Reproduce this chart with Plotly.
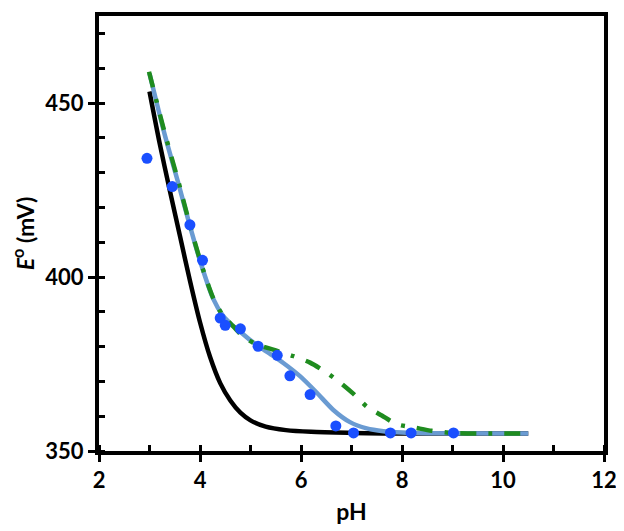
import plotly.graph_objects as go

# Experimental points
ph_pts = [2.95, 3.45, 3.8, 4.05, 4.4, 4.5, 4.8, 5.15, 5.53, 5.78, 6.18, 6.69, 7.04, 7.77, 8.18, 9.02]
e_pts = [434.1, 426.0, 415.0, 404.8, 388.2, 386.1, 385.1, 380.1, 377.5, 371.6, 366.2, 357.2, 355.2, 355.2, 355.2, 355.2]

# Black model curve
ph_black = [3.0, 3.2, 3.4, 3.6, 3.8, 4.0, 4.2, 4.4, 4.6, 4.8, 5.0, 5.3, 5.7, 6.2, 7.0, 8.0, 10.5]
e_black = [453.3, 438.5, 425.0, 412.0, 399.0, 387.0, 377.0, 369.5, 364.5, 361.0, 358.8, 357.0, 356.0, 355.5, 355.2, 355.0, 355.0]

# Light blue fit curve
ph_blue = [3.0, 3.3, 3.57, 3.8, 4.03, 4.26, 4.45, 4.65, 4.86, 5.0, 5.2, 5.4, 5.65, 5.98, 6.31, 6.64, 6.97, 7.3, 7.63, 8.0, 8.5, 10.5]
e_blue = [458.5, 441.0, 427.0, 414.7, 403.3, 393.8, 389.0, 386.0, 383.5, 381.8, 379.7, 377.8, 375.3, 371.5, 366.8, 361.8, 358.3, 356.5, 355.7, 355.3, 355.1, 355.0]

# Green dash-dot curve
ph_green = [2.99, 3.3, 3.57, 3.8, 4.03, 4.26, 4.45, 4.66, 4.86, 5.1, 5.54, 5.84, 6.18, 6.51, 6.77, 7.04, 7.3, 7.6, 7.89, 8.26, 8.59, 9.0, 10.5]
e_green = [459.0, 441.5, 427.5, 415.0, 403.5, 394.0, 389.0, 385.8, 382.8, 380.8, 378.7, 377.3, 375.4, 372.5, 369.7, 366.4, 362.8, 360.2, 357.7, 356.7, 355.8, 355.2, 355.0]

fig = go.Figure()
fig.add_trace(go.Scatter(x=ph_black, y=e_black, mode="lines", line=dict(color="black", width=4.5, shape="spline", smoothing=0.8), showlegend=False))
fig.add_trace(go.Scatter(x=ph_blue, y=e_blue, mode="lines", line=dict(color="#6A9BD2", width=4.5, shape="spline", smoothing=0.7), showlegend=False))
fig.add_trace(go.Scatter(x=ph_green, y=e_green, mode="lines", line=dict(color="#1F8C1F", width=4.5, shape="spline", smoothing=0.7, dash="16px,12px,4px,12px"), showlegend=False))
fig.add_trace(go.Scatter(x=ph_pts, y=e_pts, mode="markers", marker=dict(color="#1A4FFF", size=11), showlegend=False))

family = "Lato, 'Open Sans', sans-serif"
font = dict(family=family, size=22, color="black", weight="bold")
tfont = dict(family=family, size=23, color="black", weight="bold")

# The page body adds an 8px offset; size and margins compensate for it.
fig.update_layout(
    width=616, height=523,
    margin=dict(l=91, r=20, t=4, b=80),
    plot_bgcolor="white", paper_bgcolor="white",
    font=font,
)
fig.update_xaxes(
    range=[2, 12], tick0=2, dtick=2, showgrid=False, zeroline=False,
    showline=True, linecolor="black", linewidth=4, mirror=True,
    ticks="outside", ticklen=7, tickwidth=3, tickcolor="black",
    minor=dict(dtick=1, ticks="inside", ticklen=6, tickwidth=3, tickcolor="black", showgrid=False),
    tickfont=font,
    title=dict(text="pH", font=tfont, standoff=12),
)
fig.update_yaxes(
    range=[350, 475], tick0=350, dtick=50, showgrid=False, zeroline=False,
    showline=True, linecolor="black", linewidth=4, mirror=True,
    ticks="outside", ticklen=7, tickwidth=3, tickcolor="black",
    minor=dict(dtick=10, ticks="inside", ticklen=6, tickwidth=3, tickcolor="black", showgrid=False),
    tickfont=font,
    title=dict(text="<i>E</i><sup>o</sup> (mV)", font=tfont, standoff=12),
)

fig.write_html("out.html")
